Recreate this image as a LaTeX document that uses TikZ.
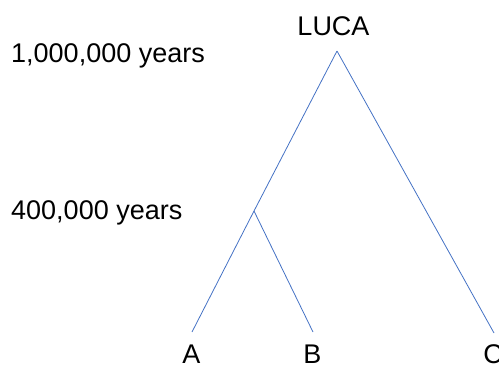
\documentclass[tikz,border=0pt]{standalone}
\usepackage{fontspec}
\setmainfont{Liberation Sans}
\usetikzlibrary{positioning}
\definecolor{branchblue}{HTML}{4472C4}

\begin{document}
\begin{tikzpicture}[
  x=1pt, y=-1pt,
  every node/.style={font=\fontsize{27}{32}\selectfont, inner sep=0pt},
  taxon/.style={anchor=base},
  age/.style={anchor=base west},
  branch/.style={draw=branchblue, line width=0.8pt}
]
  \useasboundingbox (0,0) rectangle (499,365);
  \node[taxon] (luca) at (333.5,35) {LUCA};
  \node[age]   (old)  at (11,62)    {1,000,000 years};
  \node[age]   (mid)  at (11,219)   {400,000 years};
  \node[taxon] (a)    at (191.5,363) {A};
  \node[taxon] (b)    at (312.5,363) {B};
  \node[taxon] (c)    at (493,363)   {C};
  % tree vertices
  \coordinate (root)  at (337,51);
  \coordinate (split) at (254,211);
  \coordinate (enda)  at (192,332);
  \coordinate (endb)  at (313,332);
  \coordinate (endc)  at (494,333);
  \draw[branch] (root) -- (split) -- (enda);
  \draw[branch] (split) -- (endb);
  \draw[branch] (root) -- (endc);
\end{tikzpicture}
\end{document}
